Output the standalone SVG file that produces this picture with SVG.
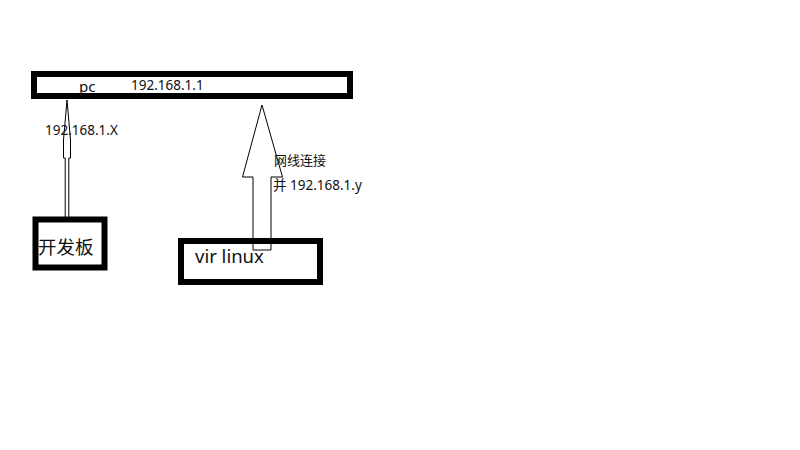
<svg xmlns="http://www.w3.org/2000/svg" width="800" height="450" viewBox="0 0 800 450">
  <style>
    .box { fill: none; stroke: #000; stroke-width: 6; }
    .arrow { fill: #fff; stroke: #000; stroke-width: 1; }
    .t { font-family: "Noto Sans", "Liberation Sans", "Noto Sans CJK SC", sans-serif; fill: #111; }
    .s { font-size: 13.5px; }
    .l { font-size: 18.5px; }
  </style>
  <rect width="800" height="450" fill="#fff"/>

  <g id="connectors">
    <!-- narrow hollow arrow from board up to pc -->
    <polygon class="arrow" points="67,100 70.5,140 70.5,158 68.8,158 68.8,218 65.2,218 65.2,158 63.5,158 63.5,140"/>
    <!-- wide hollow arrow from vir linux up to pc -->
    <polygon class="arrow" points="262,105 282.5,177 271,177 271,250 253,250 253,177 242.5,177"/>
  </g>

  <g id="pc">
    <rect class="box" x="34" y="74" width="316" height="22"/>
    <text class="t" x="79" y="92" font-size="15">pc</text>
    <text class="t s" x="131" y="90">192.168.1.1</text>
  </g>

  <g id="board">
    <rect class="box" x="35.5" y="219.5" width="69" height="48" stroke-width="5"/>
    <text class="t l" x="38" y="254">开发板</text>
  </g>

  <g id="vir-linux">
    <rect class="box" x="181" y="241" width="139" height="41"/>
    <text class="t l" x="195" y="263">vir linux</text>
  </g>

  <g id="labels">
    <text class="t s" x="45" y="135">192.168.1.X</text>
    <text class="t" x="274" y="165" font-size="13">网线连接</text>
    <text class="t s" x="273" y="190">并 192.168.1.y</text>
  </g>
</svg>
